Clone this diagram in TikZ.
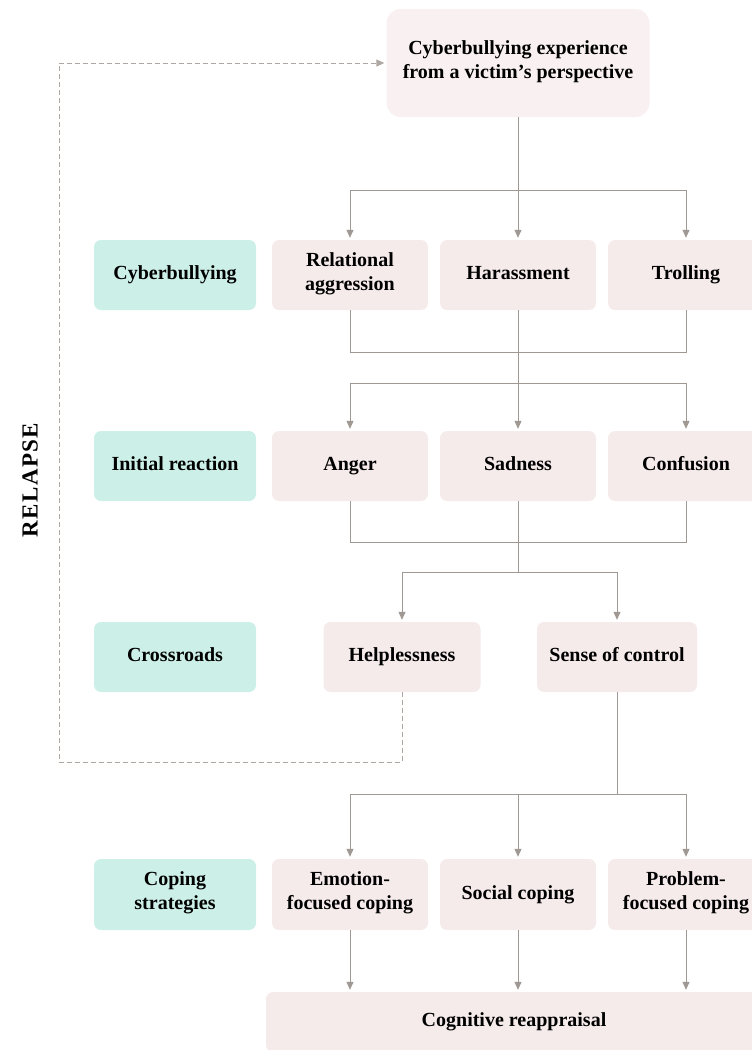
\documentclass[tikz,border=0pt]{standalone}
\usepackage{fontspec}
\setmainfont{Liberation Serif}
\usepackage{xcolor}
\usetikzlibrary{arrows.meta,positioning}
\definecolor{lightpink}{RGB}{246, 235, 235}
\definecolor{palepink}{RGB}{249, 241, 241}
\definecolor{lightteal}{RGB}{204, 240, 232}
\definecolor{linegray}{RGB}{160, 152, 146}

\begin{document}
\begin{tikzpicture}[x=1pt, y=-1pt,
    stage/.style={fill=lightpink, rounded corners=7pt, minimum width=156pt, minimum height=70pt,
        align=center, font=\bfseries\fontsize{20}{24}\selectfont,
        execute at begin node=\strut, execute at end node=\strut},
    tag/.style={stage, fill=lightteal, minimum width=162pt},
    topbox/.style={stage, fill=palepink, rounded corners=14pt, minimum width=263pt, minimum height=108pt},
    link/.style={draw=linegray, line width=1pt},
    arr/.style={link, -{Triangle[length=8pt,width=7pt]}, shorten >=2pt},
    relapse/.style={arr, draw=linegray!85, dash pattern=on 5pt off 3pt}]
    \clip (0,0) rectangle (752,1050);

    % Starting point
    \node[topbox] (top) at (518,63) {Cyberbullying experience\\from a victim’s perspective};

    % Forms of cyberbullying
    \node[tag] (tag1) at (175,275) {Cyberbullying};
    \node[stage] (rel) at (350,275) {Relational\\aggression};
    \node[stage] (har) at (518,275) {Harassment};
    \node[stage] (tro) at (686,275) {Trolling};

    % First response
    \node[tag] (tag2) at (175,466) {Initial reaction};
    \node[stage] (ang) at (350,466) {Anger};
    \node[stage] (sad) at (518,466) {Sadness};
    \node[stage] (con) at (686,466) {Confusion};

    % Turning point
    \node[tag] (tag3) at (175,657) {Crossroads};
    \node[stage, minimum width=157pt] (hel) at (402,657) {Helplessness};
    \node[stage, minimum width=160pt] (soc) at (617,657) {Sense of control};

    % Ways of coping
    \node[tag, minimum height=71pt] (tag4) at (175,894.5) {Coping\\strategies};
    \node[stage, minimum height=71pt] (emo) at (350,894.5) {Emotion-\\focused coping};
    \node[stage, minimum height=71pt] (scp) at (518,894.5) {Social coping};
    \node[stage, minimum height=71pt] (pro) at (686,894.5) {Problem-\\focused coping};

    \node[stage, minimum width=496pt, minimum height=60pt] (cog) at (514,1022) {Cognitive reappraisal};

    \node[rotate=90, font=\bfseries\fontsize{23}{28}\selectfont\addfontfeature{LetterSpace=6}] (lbl) at (30,480) {RELAPSE};

    % Junctions
    \coordinate (j1) at (518,190);
    \coordinate (j2) at (518,352);
    \coordinate (j3) at (518,383);
    \coordinate (j4) at (518,542);
    \coordinate (j5) at (518,572);
    \coordinate (j6) at (617,794);
    \coordinate (rb) at (59,762);

    \draw[link] (top.south) -- (j1);
    \draw[arr] (j1) -| (rel.north);
    \draw[arr] (j1) -- (har.north);
    \draw[arr] (j1) -| (tro.north);

    \draw[link] (rel.south) |- (j2);
    \draw[link] (tro.south) |- (j2);
    \draw[link] (har.south) -- (j3);
    \draw[arr] (j3) -| (ang.north);
    \draw[arr] (j3) -- (sad.north);
    \draw[arr] (j3) -| (con.north);

    \draw[link] (ang.south) |- (j4);
    \draw[link] (con.south) |- (j4);
    \draw[link] (sad.south) -- (j5);
    \draw[arr] (j5) -| (hel.north);
    \draw[arr] (j5) -| (soc.north);

    \draw[link] (soc.south) -- (j6);
    \draw[arr] (j6) -| (emo.north);
    \draw[arr] (j6) -| (scp.north);
    \draw[arr] (j6) -| (pro.north);

    \draw[arr] (emo.south) -- (emo.south |- cog.north);
    \draw[arr] (scp.south) -- (scp.south |- cog.north);
    \draw[arr] (pro.south) -- (pro.south |- cog.north);

    % Back to the start
    \draw[relapse] (hel.south) |- (rb) |- (top.west);
\end{tikzpicture}
\end{document}
